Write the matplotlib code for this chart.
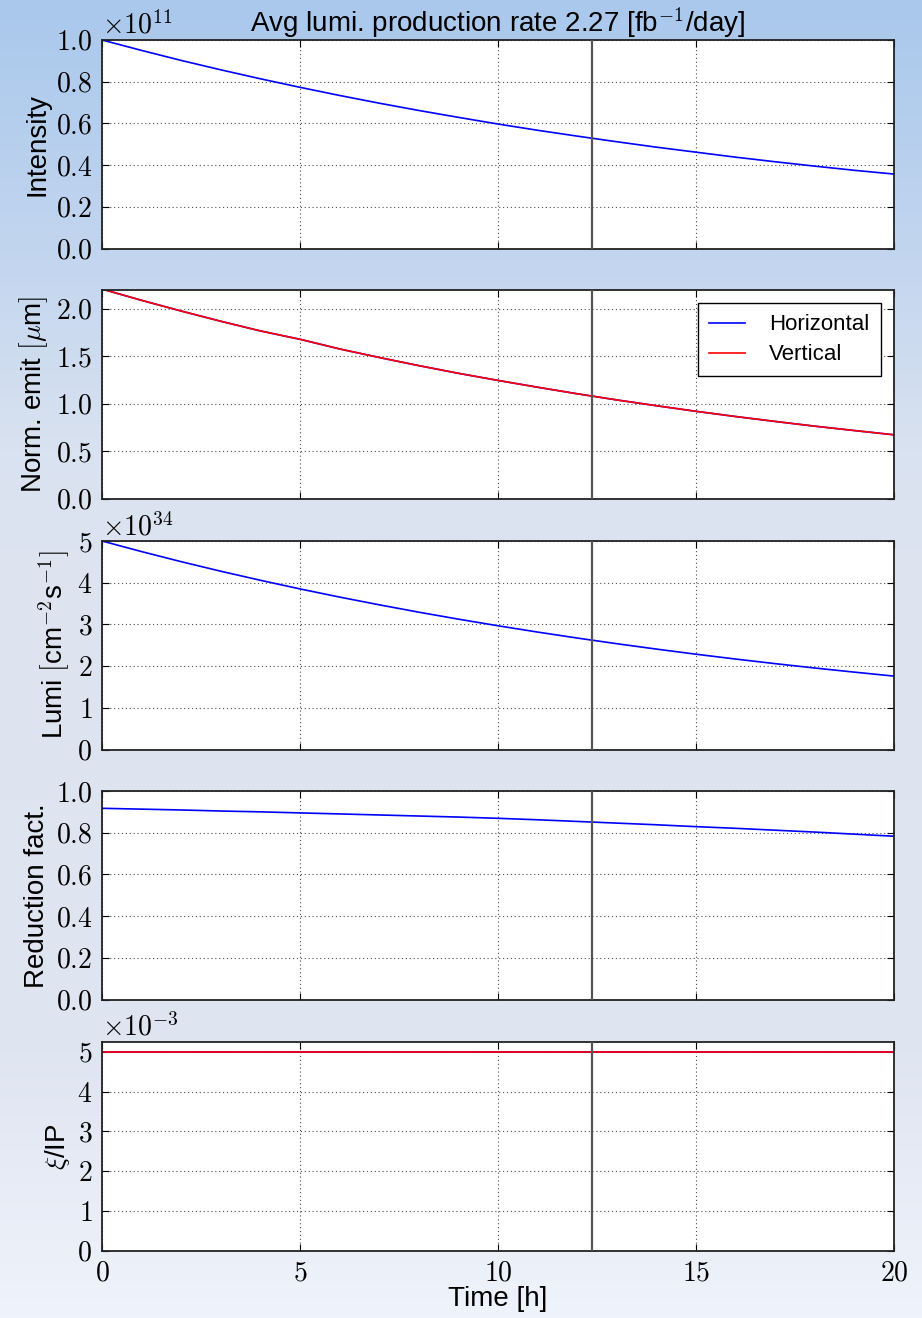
import numpy as np
import matplotlib
matplotlib.use("Agg")
import matplotlib.pyplot as plt
from matplotlib.ticker import FuncFormatter, MultipleLocator

plt.rcParams['font.family'] = ['Liberation Sans', 'DejaVu Sans']
plt.rcParams['mathtext.fontset'] = 'cm'
plt.rcParams['axes.unicode_minus'] = False

# time axis [h]
time_h = [0, 1, 2, 3, 4, 5, 6, 7, 8, 9, 10, 11, 12, 13, 14, 15, 16, 17, 18, 19, 20]

# bunch intensity [p/bunch]
intensity = [1.000e11, 0.950e11, 0.902e11, 0.857e11, 0.814e11, 0.773e11, 0.734e11,
             0.697e11, 0.662e11, 0.629e11, 0.597e11, 0.567e11, 0.539e11, 0.512e11,
             0.486e11, 0.462e11, 0.438e11, 0.416e11, 0.395e11, 0.375e11, 0.357e11]

# normalised emittance [um]
emit_h = [2.210, 2.091, 1.978, 1.870, 1.768, 1.680, 1.578, 1.488, 1.402, 1.321, 1.246,
          1.174, 1.105, 1.040, 0.979, 0.920, 0.865, 0.813, 0.763, 0.717, 0.672]
emit_v = [2.210, 2.091, 1.978, 1.870, 1.768, 1.680, 1.578, 1.488, 1.402, 1.321, 1.246,
          1.174, 1.105, 1.040, 0.979, 0.920, 0.865, 0.813, 0.763, 0.717, 0.672]

# luminosity [cm^-2 s^-1]
lumi = [5.000e34, 4.746e34, 4.504e34, 4.275e34, 4.058e34, 3.851e34, 3.655e34,
        3.470e34, 3.293e34, 3.126e34, 2.967e34, 2.816e34, 2.673e34, 2.537e34,
        2.408e34, 2.285e34, 2.169e34, 2.059e34, 1.954e34, 1.855e34, 1.760e34]

# geometric reduction factor
reduction = [0.917, 0.913, 0.909, 0.904, 0.900, 0.895, 0.890, 0.885, 0.880, 0.875, 0.869,
             0.862, 0.854, 0.846, 0.838, 0.829, 0.821, 0.812, 0.803, 0.793, 0.783]

# beam-beam tune shift per IP
xi_h = [5.0e-3] * 21
xi_v = [5.0e-3] * 21

t_fill = 12.37          # optimal fill length [h]
avg_rate = 2.27         # [fb^-1/day]

W, H = 922, 1318
fig = plt.figure(figsize=(W / 100, H / 100), dpi=100)

# slide-like background gradient
bg = fig.add_axes([0, 0, 1, 1], zorder=-1)
stops = np.array([0, 250, 450, 550, 1050, 1318]) / H
cols = np.array([[0xa9, 0xc8, 0xec], [0xc2, 0xd5, 0xef], [0xd9, 0xe2, 0xf0],
                 [0xdd, 0xe4, 0xf0], [0xdf, 0xe5, 0xf1], [0xef, 0xf3, 0xfb]]) / 255
yy = np.linspace(0, 1, H)
grad = np.stack([np.interp(yy, stops, cols[:, c]) for c in range(3)], axis=-1)
bg.imshow(grad[:, None, :], aspect='auto', extent=[0, 1, 0, 1])
bg.axis('off')

left, width = 102 / W, 792 / W
tops = [40, 290, 541, 791, 1042]
hgt = 208.5
axes = []
for tp in tops:
    ax = fig.add_axes([left, 1 - (tp + hgt) / H, width, hgt / H])
    axes.append(ax)

TICK = 20
LAB = 20


def style(ax, ymax, ystep, fmt, offset=None):
    ax.set_xlim(0, 20)
    ax.set_ylim(0, ymax)
    ax.xaxis.set_major_locator(MultipleLocator(5))
    ax.yaxis.set_major_locator(MultipleLocator(ystep))
    ax.yaxis.set_major_formatter(FuncFormatter(fmt))
    ax.grid(True, color='0.3', linestyle=(0, (1, 2.5)), linewidth=0.8)
    ax.tick_params(direction='in', top=True, right=True, length=5, width=0.8,
                   labelsize=TICK, pad=7)
    for s in ax.spines.values():
        s.set_linewidth(1.3)
        s.set_color('#222222')
    ax.axvline(t_fill, color='#555555', lw=1.6, zorder=3)
    if offset:
        ax.text(0, 1.0, offset, transform=ax.transAxes, ha='left', va='bottom',
                fontsize=TICK)


ax1, ax2, ax3, ax4, ax5 = axes

ax1.plot(time_h, intensity, color='b', lw=1.2)
style(ax1, 1.0e11, 0.2e11, lambda v, p: '$%.1f$' % (v / 1e11), r'$\times10^{11}$')
ax1.set_ylabel('Intensity', fontsize=LAB)
ax1.set_title('Avg lumi. production rate %.2f [fb$^{-1}$/day]' % avg_rate,
              fontsize=LAB, pad=3)

ax2.plot(time_h, emit_h, color='b', lw=1.2, label='Horizontal')
ax2.plot(time_h, emit_v, color='r', lw=1.2, label='Vertical')
style(ax2, 2.2, 0.5, lambda v, p: '$%.1f$' % v)
ax2.set_ylabel(r'Norm. emit $[\mu$m$]$', fontsize=LAB)
leg = ax2.legend(loc='upper right', fontsize=16, fancybox=False, framealpha=1,
                 edgecolor='k', borderpad=0.5, handlelength=1.6, handletextpad=1.1,
                 borderaxespad=0.6, labelspacing=0.4)
leg.get_frame().set_linewidth(1.0)

ax3.plot(time_h, lumi, color='b', lw=1.2)
style(ax3, 5e34, 1e34, lambda v, p: '$%d$' % round(v / 1e34), r'$\times10^{34}$')
ax3.set_ylabel(r'Lumi $[$cm$^{-2}$s$^{-1}]$', fontsize=LAB)

ax4.plot(time_h, reduction, color='b', lw=1.2)
style(ax4, 1.0, 0.2, lambda v, p: '$%.1f$' % v)
ax4.set_ylabel('Reduction fact.', fontsize=LAB)

ax5.plot(time_h, xi_h, color='b', lw=1.2)
ax5.plot(time_h, xi_v, color='r', lw=1.2)
style(ax5, 5.25e-3, 1e-3, lambda v, p: '$%d$' % round(v / 1e-3), r'$\times10^{-3}$')
ax5.set_ylabel(r'$\xi$/IP', fontsize=LAB)
ax5.xaxis.set_major_formatter(FuncFormatter(lambda v, p: '$%d$' % v))
ax5.set_xlabel('Time [h]', fontsize=LAB, labelpad=0)

for ax in axes[:-1]:
    ax.tick_params(labelbottom=False)

fig.savefig('out.png', dpi=100)
